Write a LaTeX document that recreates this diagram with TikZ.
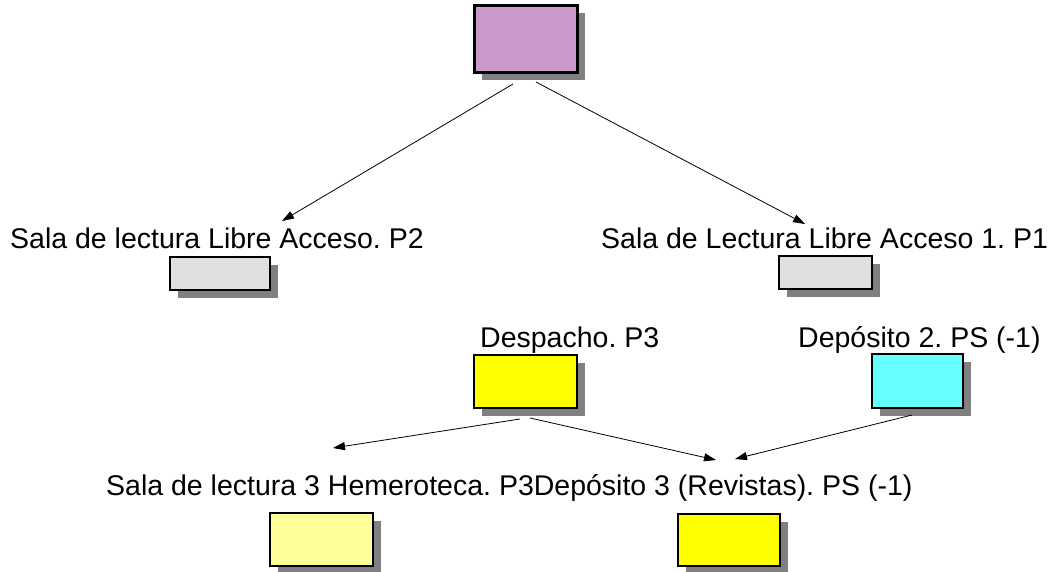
\documentclass[tikz,border=0pt]{standalone}
\usepackage{fontspec}
\setmainfont{Liberation Sans}
\usetikzlibrary{arrows.meta,shadows}
\definecolor{shadowgray}{RGB}{128,128,128}
\definecolor{pinkbox}{RGB}{204,153,204}
\definecolor{graybox}{RGB}{224,224,224}
\definecolor{yellowbox}{RGB}{255,255,0}
\definecolor{cyanbox}{RGB}{102,255,255}
\definecolor{paleyellow}{RGB}{255,255,153}
\frenchspacing
\tikzset{
  roombox/.style={draw=black, line width=1.6pt, inner sep=0pt, anchor=north west,
    general shadow={shadow xshift=8pt, shadow yshift=-8pt, fill=shadowgray}},
  lbl/.style={anchor=base west, inner sep=0pt, font=\fontsize{28.5}{32}\selectfont},
  conn/.style={line width=0.8pt, -{Triangle[length=12pt,width=8pt]}}
}
\begin{document}
\begin{tikzpicture}[x=1pt,y=-1pt]
\useasboundingbox (0,0) rectangle (1052,572);
% boxes
\node[roombox, line width=2.6pt, fill=pinkbox, minimum width=103pt, minimum height=67pt] (top) at (473,4) {};
\node[roombox, fill=graybox, minimum width=100pt, minimum height=33pt] (g1) at (169,256) {};
\node[roombox, fill=graybox, minimum width=93pt, minimum height=33pt] (g2) at (778,255) {};
\node[roombox, fill=yellowbox, minimum width=103pt, minimum height=53pt] (desp) at (473,354) {};
\node[roombox, fill=cyanbox, minimum width=91pt, minimum height=54pt] (dep2) at (871,353) {};
\node[roombox, fill=paleyellow, minimum width=103pt, minimum height=53pt] (hem) at (269,512) {};
\node[roombox, fill=yellowbox, minimum width=102pt, minimum height=52pt] (dep3) at (677,513) {};
% labels
\node[lbl] (l1) at (10,248) {Sala de lectura Libre Acceso. P2};
\node[lbl] (l2) at (601,248) {Sala de Lectura Libre Acceso 1. P1};
\node[lbl] (l3) at (480,347) {Despacho. P3};
\node[lbl] (l4) at (798,347) {Depósito 2. PS (-1)};
\node[lbl] (l5) at (106,495) {Sala de lectura 3 Hemeroteca. P3Depósito 3 (Revistas). PS (-1)};
% connector ends
\coordinate (s1) at (513,84);
\coordinate (e1) at (282,221);
\coordinate (s2) at (536,82);
\coordinate (e2) at (805,224);
\coordinate (s3) at (520,419);
\coordinate (e3) at (333,448);
\coordinate (s4) at (530,418);
\coordinate (e4) at (716,460);
\coordinate (s5) at (912,415);
\coordinate (e5) at (735,459);
\draw[conn] (s1) -- (e1);
\draw[conn] (s2) -- (e2);
\draw[conn] (s3) -- (e3);
\draw[conn] (s4) -- (e4);
\draw[conn] (s5) -- (e5);
\end{tikzpicture}
\end{document}
